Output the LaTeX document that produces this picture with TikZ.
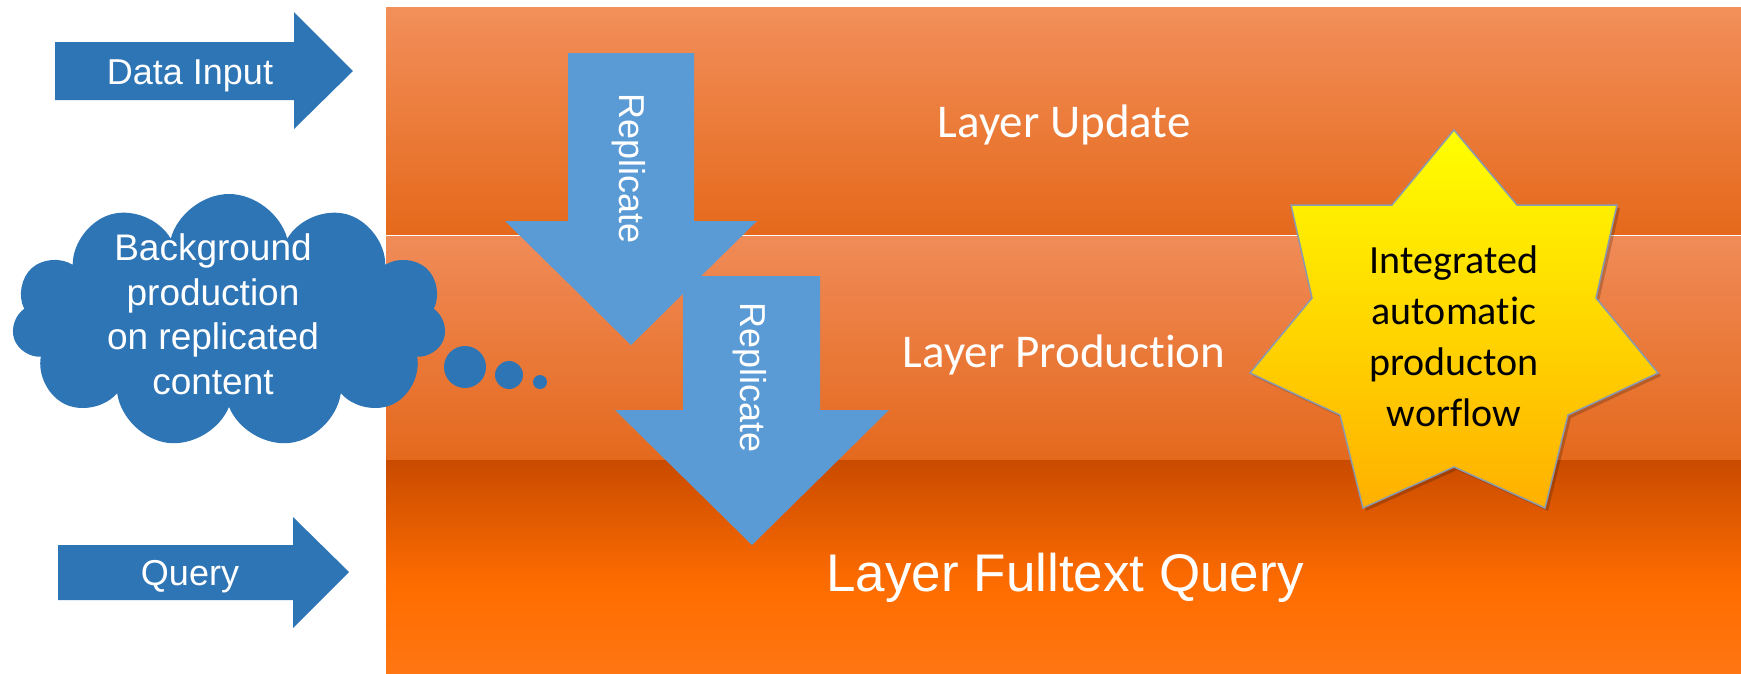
\documentclass[tikz,border=0pt]{standalone}
\usepackage{fontspec}
\setmainfont{Liberation Sans}
\newfontfamily\calibri{Carlito}[Ligatures={NoCommon,NoContextual}]
\usepackage{tikz}
\usetikzlibrary{positioning,shapes.symbols,calc}

\definecolor{inblue}{HTML}{2E75B6}
\definecolor{repblue}{HTML}{5B9BD5}
\definecolor{uptop}{HTML}{F28F5A}
\definecolor{upmid}{HTML}{F47D2D}
\definecolor{upbot}{HTML}{E5691B}
\definecolor{prtop}{HTML}{F08B58}
\definecolor{prmid}{HTML}{F27B2C}
\definecolor{prbot}{HTML}{E4691D}
\definecolor{qutop}{HTML}{C94B00}
\definecolor{qumid}{HTML}{FF6D00}
\definecolor{qubot}{HTML}{FF7612}
\definecolor{startop}{HTML}{FFFF00}
\definecolor{starmid}{HTML}{FFDF00}
\definecolor{starbot}{HTML}{FFB000}
\definecolor{starline}{HTML}{8A9BB0}
\pgfdeclareverticalshading{fulltextshade}{100bp}{color(0bp)=(qubot); color(25bp)=(qubot); color(45bp)=(qumid); color(75bp)=(qutop); color(100bp)=(qutop)}

\begin{document}
\begin{tikzpicture}[x=1pt,y=-1pt,line join=miter,
  layertext/.style={text=white,inner sep=0pt,font=\calibri\fontsize{47pt}{56pt}\selectfont},
  armtext/.style={text=white,inner sep=0pt,font=\fontsize{36pt}{43pt}\selectfont},
  inarrow/.style={fill=inblue},
  reparrow/.style={fill=repblue}]
\useasboundingbox (0,0) rectangle (1741,673);
\fill[white] (0,0) rectangle (1741,673);

\shade[top color=uptop,middle color=upmid,bottom color=upbot] (386,7) rectangle (1741,234);
\shade[top color=prtop,middle color=prmid,bottom color=prbot] (386,236) rectangle (1741,460);
\shade[shading=fulltextshade] (386,460) rectangle (1741,673);

\fill[inarrow] (55,42) -- (294,42) -- (294,12) -- (353,71) -- (294,129) -- (294,100) -- (55,100) -- cycle;
\fill[inarrow] (58,545) -- (293,545) -- (293,517) -- (349,572) -- (293,628) -- (293,600) -- (58,600) -- cycle;

\node[cloud,cloud puffs=11,aspect=1.7,fill=inblue,inner sep=0pt,
  minimum width=434pt,minimum height=254pt] (bgcloud) at (229,321) {};
\fill[inblue] (465,367) circle (21pt);
\fill[inblue] (509,375) circle (14pt);
\fill[inblue] (540,382) circle (7pt);

\fill[reparrow] (568,53) -- (694,53) -- (694,221) -- (757,221) -- (631,345) -- (505,221) -- (568,221) -- cycle;
\fill[reparrow] (683,276) -- (820,276) -- (820,410) -- (889,410) -- (752,545) -- (615,410) -- (683,410) -- cycle;

\fill[black,opacity=.2] ($(1454,130)+(3,3)$) -- ++(63,75) -- ++(100,0) -- ++(-21,93) -- ++(62,75) -- ++(-90,42)
  -- ++(-23,93) -- ++(-91,-41) -- ++(-91,41) -- ++(-23,-93) -- ++(-90,-42) -- ++(62,-75) -- ++(-21,-93) -- ++(101,0) -- cycle;
\shade[top color=startop,middle color=starmid,bottom color=starbot,draw=starline,line width=1.5pt]
  (1454,130) -- (1517,205) -- (1617,205) -- (1596,298) -- (1658,373) -- (1568,415) -- (1545,508)
  -- (1454,467) -- (1363,508) -- (1340,415) -- (1250,373) -- (1312,298) -- (1291,205) -- (1392,205) -- cycle;

\node[armtext,anchor=base] (datain) at (190,84) {Data Input};
\node[armtext,anchor=base] (query) at (190,585) {Query};
\node[armtext,anchor=base,align=center,font=\fontsize{37pt}{44.5pt}\selectfont] (bgtext) at (213,394)
  {Background\\production\\on replicated\\content};
\node[armtext,anchor=base,rotate=-90] (rep1) at (619,169) {Replicate};
\node[armtext,anchor=base,rotate=-90] (rep2) at (740,378) {Replicate};

\node[layertext,anchor=base] (update) at (1064,137) {Layer Update};
\node[layertext,anchor=base] (production) at (1064,367) {Layer Production};
\node[layertext,anchor=base,font=\fontsize{53pt}{64pt}\selectfont] (fulltext) at (1065,591) {Layer Fulltext Query};

\node[anchor=base,align=center,inner sep=0pt,font=\calibri\fontsize{40pt}{51pt}\selectfont] (workflow) at (1454,426)
  {Integrated\\automatic\\producton\\worflow};
\end{tikzpicture}
\end{document}
